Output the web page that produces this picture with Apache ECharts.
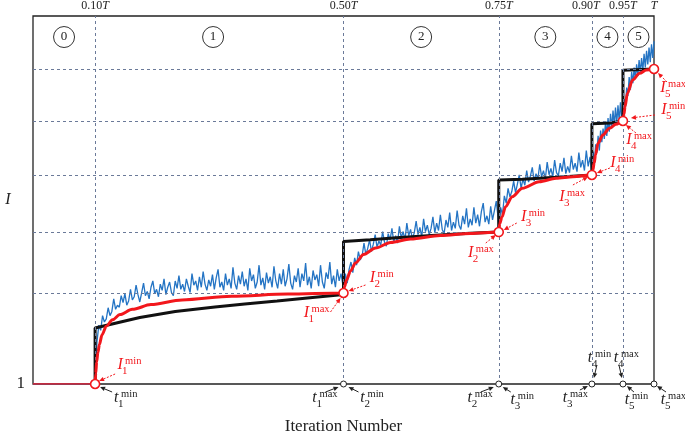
<!DOCTYPE html>
<html><head><meta charset="utf-8">
<script src="https://cdn.jsdelivr.net/npm/echarts@6/dist/echarts.min.js"></script>
<style>html,body{margin:0;padding:0;background:#fff}#c{width:685px;height:432px}</style>
</head><body><div id="c"></div>
<script>
// ---------- data ----------
const T = 1000;                       // iterations
const stageBounds = [100, 500, 750, 900, 950, 1000];
const topTickValues = [100, 500, 750, 900, 950, 1000];
const topTickLabels = ['0.10', '0.50', '0.75', '0.90', '0.95', ''];
const stageNames = ['0', '1', '2', '3', '4', '5'];
const stageLabelX = [50, 290, 625, 825, 925, 975];
const stageLabelY = 7.6;
const levelIMax = [2.731, 3.891, 4.976, 6.003, 6.992];   // I_k^max levels (dashed lines)

// black step curve
const blackX = [100, 100, 124, 172, 229, 293, 341, 393, 446, 500,
                500, 543, 591, 655, 704, 750,
                750, 788, 843, 900,
                900, 930, 950,
                950, 1000];
const blackY = [1.0, 2.065, 2.132, 2.265, 2.379, 2.465, 2.522, 2.579, 2.640, 2.702,
                3.711, 3.743, 3.785, 3.834, 3.867, 3.891,
                4.88, 4.894, 4.932, 4.976,
                5.95, 5.965, 6.003,
                6.97, 6.992];

// red smooth curve
const redX = [100, 101, 102.5, 104.5, 107, 111, 118, 128, 140, 160, 190, 240, 320, 410, 500,
              501.6, 504.8, 511.3, 519.3, 532.2, 551.6, 575.8, 608, 656, 704, 750,
              751.5, 755.4, 760.9, 771.7, 788, 815.2, 842.4, 869.5, 900,
              901.6, 903.6, 905.8, 909.8, 917.7, 928.1, 938.6, 950,
              951.7, 953.3, 957.2, 965.5, 976.7, 987.8, 1000];
const redY = [1.0, 1.2, 1.42, 1.6, 1.75, 1.93, 2.1, 2.22, 2.32, 2.42, 2.51, 2.6, 2.67, 2.71, 2.731,
              2.845, 2.978, 3.150, 3.302, 3.463, 3.587, 3.692, 3.758, 3.825, 3.863, 3.891,
              4.05, 4.182, 4.373, 4.563, 4.723, 4.848, 4.913, 4.943, 4.976,
              5.071, 5.204, 5.356, 5.579, 5.737, 5.864, 5.940, 6.003,
              6.136, 6.275, 6.530, 6.783, 6.910, 6.973, 6.992];
const red0X = [0, 100];
const red0Y = [1.0, 1.0];

// blue noisy curve, per stage: start iteration, step, values
const blue0 = { start: 0, step: 100, values: [1.0] };
const blue1 = { start: 100, step: 3, values: [
 1.00,1.80,2.12,2.02,2.30,2.18,2.24,2.45,2.30,2.38,
 2.62,2.42,2.50,2.46,2.68,2.55,2.72,2.50,2.58,2.80,
 2.60,2.66,2.88,2.70,2.56,2.74,2.92,2.68,2.76,2.62,
 2.84,2.96,2.72,2.80,2.66,2.90,2.78,3.00,2.70,2.84,
 2.94,2.74,2.68,2.96,2.82,3.06,2.80,2.90,2.76,3.00,
 2.86,2.74,3.10,2.88,2.96,2.78,3.04,2.84,3.14,2.90,
 2.78,2.98,2.86,3.08,2.80,3.02,3.18,2.84,2.94,2.78,
 3.10,2.88,3.00,2.82,3.22,2.92,2.80,3.06,2.90,3.14,
 2.86,3.00,2.78,3.20,2.96,3.08,2.82,2.94,3.26,2.88,
 3.02,2.80,3.12,2.92,3.04,2.84,3.24,2.96,2.82,3.10,
 2.90,3.18,2.86,3.00,3.28,2.92,2.80,3.06,2.94,3.20,
 2.84,3.10,2.96,3.30,2.88,3.04,2.82,3.16,2.98,3.08,
 2.86,3.26,2.94,2.82,3.12,3.00,3.32,2.90,3.06,2.84,
 3.18,2.96,3.10,2.88] };
const blue2 = { start: 500, step: 3, values: [
 2.73,3.10,2.92,3.18,3.32,3.12,3.40,3.26,3.52,3.36,
 3.44,3.68,3.46,3.58,3.74,3.52,3.66,3.84,3.60,3.72,
 3.64,3.90,3.70,3.62,3.86,3.74,3.96,3.70,3.82,3.68,
 4.00,3.78,3.90,3.74,4.06,3.82,3.94,3.76,3.88,4.10,
 3.84,3.98,3.80,4.14,3.90,4.02,3.84,3.96,4.18,3.88,
 4.06,3.92,4.22,3.94,3.86,4.12,3.98,4.26,3.92,4.08,
 3.96,4.30,4.02,3.94,4.20,4.04,4.34,3.98,4.14,4.02,
 4.36,4.06,4.22,4.00,4.28,4.44,4.08,4.20,4.04,4.38,
 4.12,4.30,4.48,4.16] };
const blue3 = { start: 750, step: 3, values: [
 3.89,4.36,4.22,4.58,4.44,4.72,4.56,4.66,4.86,4.64,
 4.80,4.98,4.72,4.90,4.78,5.06,4.84,4.96,5.12,4.86,
 5.00,4.90,5.18,4.94,5.06,4.90,5.22,4.98,5.10,4.94,
 5.26,5.02,4.96,5.20,5.04,5.30,5.00,5.14,5.02,5.34,
 5.08,5.20,5.04,5.40,5.12,5.26,5.06,5.44,5.14,5.32] };
const blue4 = { start: 900, step: 2, values: [
 4.98,5.42,5.18,5.56,5.40,5.72,5.44,5.82,5.60,5.86,
 5.66,6.00,5.72,6.06,5.80,6.14,5.86,6.20,5.92,6.26,
 5.96,6.30,6.00,6.36,6.04] };
const blue5 = { start: 950, step: 2, values: [
 6.00,6.42,6.26,6.64,6.48,6.84,6.60,6.94,6.72,7.02,
 6.80,7.08,6.86,7.16,6.92,7.20,6.96,7.28,7.02,7.34,
 7.08,7.40,7.12,7.46,7.20,7.52] };

// key points
const redPtsX = [100, 500, 750, 900, 950, 1000];
const redPtsY = [1.0, 2.731, 3.891, 4.976, 6.003, 6.992];
const axisPtsX = [500, 750, 900, 950, 1000];

// annotations: letter, subscript, superscript, anchor (data coords), pixel offsets
const annotations = [
 {t:'I', sub:'1', sup:'min', at:[100,1],     lab:[25,-19], tail:[20,-10], head:[4,-3]},
 {t:'I', sub:'1', sup:'max', at:[500,2.731], lab:[-37,20], tail:[-13,19], head:[-3,5]},
 {t:'I', sub:'2', sup:'min', at:[500,2.731], lab:[29,-15], tail:[22,-8],  head:[5,-2]},
 {t:'I', sub:'2', sup:'max', at:[750,3.891], lab:[-28,21], tail:[-13,11], head:[-3,3]},
 {t:'I', sub:'3', sup:'min', at:[750,3.891], lab:[25,-15], tail:[18,-9],  head:[5,-2]},
 {t:'I', sub:'3', sup:'max', at:[900,4.976], lab:[-30,22], tail:[-19,10], head:[-4,2]},
 {t:'I', sub:'4', sup:'min', at:[900,4.976], lab:[21,-12], tail:[18,-7],  head:[5,-2]},
 {t:'I', sub:'4', sup:'max', at:[950,6.003], lab:[6,19],   tail:[13,12],  head:[3,4]},
 {t:'I', sub:'5', sup:'min', at:[950,6.003], lab:[41,-11], tail:[32,-6],  head:[8,-3]},
 {t:'I', sub:'5', sup:'max', at:[1000,6.992],lab:[9,19],   tail:[13,13],  head:[4,4]},
 {t:'t', sub:'1', sup:'min', at:[100,1],  lab:[21,14],  tail:[17,8],   head:[5,3]},
 {t:'t', sub:'1', sup:'max', at:[500,1],  lab:[-29,14], tail:[-18,8],  head:[-5,3]},
 {t:'t', sub:'2', sup:'min', at:[500,1],  lab:[19,14],  tail:[15,8],   head:[5,3]},
 {t:'t', sub:'2', sup:'max', at:[750,1],  lab:[-29,14], tail:[-18,8],  head:[-5,3]},
 {t:'t', sub:'3', sup:'min', at:[750,1],  lab:[14,16],  tail:[12,8],   head:[4,3]},
 {t:'t', sub:'3', sup:'max', at:[900,1],  lab:[-27,14], tail:[-12,6],  head:[-4,2]},
 {t:'t', sub:'4', sup:'min', at:[900,1],  lab:[-2,-26], tail:[5,-19],  head:[2,-6]},
 {t:'t', sub:'4', sup:'max', at:[950,1],  lab:[-7,-26], tail:[-4,-19], head:[-1,-6]},
 {t:'t', sub:'5', sup:'min', at:[950,1],  lab:[4,16],   tail:[11,8],   head:[4,2]},
 {t:'t', sub:'5', sup:'max', at:[1000,1], lab:[9,16],   tail:[12,8],   head:[3,2]}
];

// ---------- build ----------
const FONT = '"Liberation Serif", "DejaVu Serif", serif';
const RED = '#f2171c';
const zip = (xs, ys) => xs.map((x, i) => [x, ys[i]]);
const stage = s => s.values.map((v, i) => [s.start + i * s.step, v]);
const blueData = [].concat(stage(blue0), stage(blue1), stage(blue2), stage(blue3), stage(blue4), stage(blue5));

const chart = echarts.init(document.getElementById('c'), null, {renderer: 'canvas'});
const dashStyle = {color: '#6b7a99', width: 1, type: [3, 3]};

chart.setOption({
  animation: false,
  backgroundColor: '#fff',
  grid: {left: 33, right: 31, top: 16, bottom: 48, show: true, borderColor: '#222', borderWidth: 1.3,
         containLabel: false, outerBoundsMode: 'none'},
  xAxis: [
    {type: 'value', min: 0, max: T, interval: 50, position: 'bottom',
     axisLine: {show: false}, axisTick: {show: false}, splitLine: {show: false},
     axisLabel: {show: false},
     name: 'Iteration Number', nameLocation: 'middle', nameGap: 34,
     nameTextStyle: {fontFamily: FONT, fontSize: 17, color: '#222'}},
    {type: 'value', min: 0, max: T, interval: 50, position: 'top',
     axisLine: {show: false}, axisTick: {show: false}, splitLine: {show: false},
     axisLabel: {show: true, margin: 4, fontFamily: FONT, fontSize: 12, color: '#222',
       formatter: v => {
         const i = topTickValues.indexOf(v);
         if (i < 0) return '';
         return v === 900 ? '{n|' + topTickLabels[i] + '}{tn|T}' : topTickLabels[i] + '{t|T}';
       },
       rich: {t: {fontFamily: FONT, fontStyle: 'italic', fontSize: 12, color: '#222'},
              n: {fontFamily: FONT, fontSize: 12, color: '#222'},
              tn: {fontFamily: FONT, fontStyle: 'italic', fontSize: 12, color: '#222', padding: [0, 12, 0, 0]}}}}
  ],
  yAxis: [{type: 'value', min: 1, max: 8, interval: 7,
     axisLine: {show: false}, axisTick: {show: false}, splitLine: {show: false},
     axisLabel: {margin: 8, fontFamily: FONT, fontSize: 17, color: '#222', formatter: v => v === 1 ? '1' : ''},
     name: 'I', nameLocation: 'middle', nameGap: 22, nameRotate: 0,
     nameTextStyle: {fontFamily: FONT, fontStyle: 'italic', fontSize: 16, color: '#222'}}],
  series: [
    {name: 'guides', type: 'line', data: [], z: 1, silent: true,
     markLine: {silent: true, symbol: 'none', label: {show: false}, lineStyle: dashStyle, animation: false,
       data: levelIMax.map(v => ({yAxis: v})).concat(stageBounds.slice(0, 5).map(v => ({xAxis: v})))},
     markPoint: {silent: true, symbol: 'circle', symbolSize: 21, animation: false,
       itemStyle: {color: '#fff', borderColor: '#333', borderWidth: 1},
       label: {show: true, position: 'inside', formatter: '{b}', fontFamily: FONT, fontSize: 13, color: '#222'},
       data: stageNames.map((n, i) => ({name: n, coord: [stageLabelX[i], stageLabelY]}))}},
    {name: 'blue', type: 'line', data: blueData, showSymbol: false, z: 3,
     lineStyle: {color: '#2474c4', width: 1.3}},
    {name: 'black', type: 'line', data: zip(blackX, blackY), showSymbol: false, z: 4,
     lineStyle: {color: '#111', width: 3}},
    {name: 'red0', type: 'line', data: zip(red0X, red0Y), showSymbol: false, z: 5,
     lineStyle: {color: RED, width: 1.3}},
    {name: 'red', type: 'line', data: zip(redX, redY), showSymbol: false, z: 5,
     smooth: 0.3, smoothMonotone: 'x', lineStyle: {color: RED, width: 3}},
    {name: 'axisPts', type: 'scatter', data: axisPtsX.map(x => [x, 1]), symbolSize: 6, z: 6, clip: false,
     itemStyle: {color: '#fff', borderColor: '#222', borderWidth: 1, opacity: 1}},
    {name: 'redPts', type: 'scatter', data: zip(redPtsX, redPtsY), symbolSize: 9, z: 7, clip: false,
     itemStyle: {color: '#fff', borderColor: RED, borderWidth: 1.6, opacity: 1}}
  ]
});

function textEl(x, y, text, size, italic, color, align) {
  return {type: 'text', x: x, y: y, silent: true, z: 100,
    style: {text: text, fill: color, fontSize: size, fontFamily: FONT, fontStyle: italic ? 'italic' : 'normal',
            align: align || 'left', verticalAlign: 'middle', textAlign: align || 'left', textVerticalAlign: 'middle'}};
}
function arrowEls(t, h, color, dashed) {
  const dx = h[0] - t[0], dy = h[1] - t[1];
  const L = Math.hypot(dx, dy) || 1;
  const ux = dx / L, uy = dy / L, nx = -uy, ny = ux;
  const hl = 5, hw = 2.3;
  const bx = h[0] - ux * hl, by = h[1] - uy * hl;
  return [
    {type: 'line', silent: true, z: 100, shape: {x1: t[0], y1: t[1], x2: bx, y2: by},
     style: {stroke: color, lineWidth: 1, lineDash: dashed ? [2, 1.5] : null}},
    {type: 'polygon', silent: true, z: 100,
     shape: {points: [[h[0], h[1]], [bx + nx * hw, by + ny * hw], [bx - nx * hw, by - ny * hw]]},
     style: {fill: color}}
  ];
}
const graphics = [];
annotations.forEach(a => {
  const p = chart.convertToPixel({gridIndex: 0}, a.at);
  const color = a.t === 'I' ? RED : '#222';
  const cx = p[0] + a.lab[0], cy = p[1] + a.lab[1];
  graphics.push(textEl(cx, cy, a.t, 16, true, color, 'center'));
  graphics.push(textEl(cx + 5, cy - 4, a.sup, 10.5, false, color, 'left'));
  graphics.push(textEl(cx + 2, cy + 6, a.sub, 11, false, color, 'left'));
  arrowEls([p[0] + a.tail[0], p[1] + a.tail[1]], [p[0] + a.head[0], p[1] + a.head[1]], color, a.t === 'I')
    .forEach(g => graphics.push(g));
});
chart.setOption({graphic: graphics});
</script>
</body></html>
